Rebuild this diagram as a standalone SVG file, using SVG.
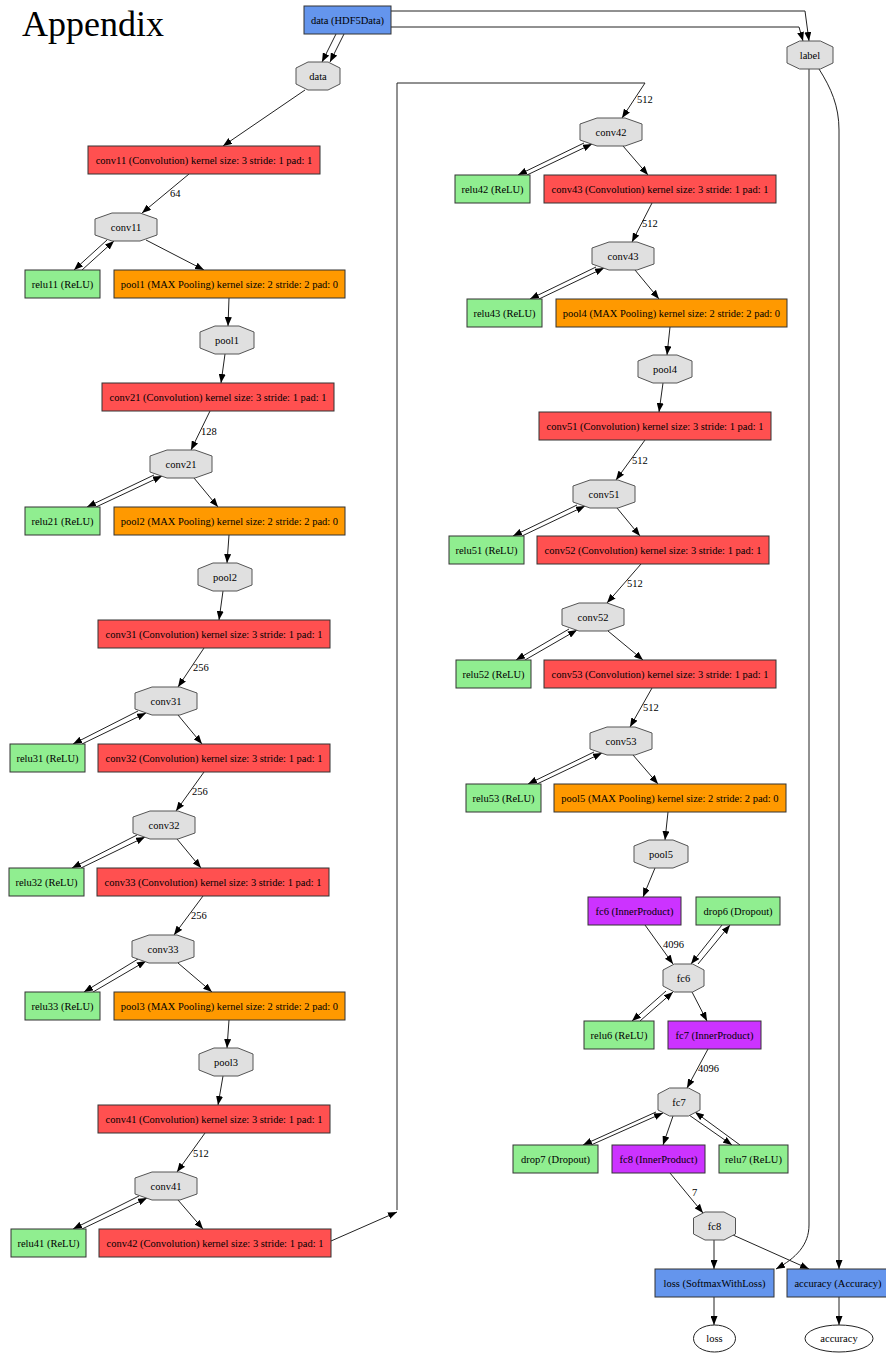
<svg xmlns="http://www.w3.org/2000/svg" width="886" height="1353" viewBox="0 0 886 1353">
<style>
.bx{stroke:#333;stroke-width:1}
.red{fill:#FF5050}.org{fill:#FF9900}.grn{fill:#90EE90}.blu{fill:#6495ED}.pur{fill:#CC33FF}
.oct{fill:#E0E0E0;stroke:#555;stroke-width:1}
.ell{fill:#fff;stroke:#222;stroke-width:1}
text{font-family:"Liberation Serif","Times New Roman",serif;font-size:10.5px;fill:#000}
.t{text-anchor:middle}
.e{fill:none;stroke:#222;stroke-width:1;marker-end:url(#a)}
.n{fill:none;stroke:#222;stroke-width:1}
</style>
<defs>
<marker id="a" markerWidth="9" markerHeight="7" refX="9" refY="3.5" orient="auto" markerUnits="userSpaceOnUse"><path d="M0,0 L9,3.5 L0,7 z" fill="#000"/></marker>
</defs>
<rect width="886" height="1353" fill="#fff"/>
<text x="22" y="36" style="font-size:36px">Appendix</text>

<g id="connectors">
<path class="e" d="M336,34 L322,62"/>
<path class="e" d="M344,34 L330,62"/>
<path class="e" d="M390,11 L805,11 L809,41"/>
<path class="e" d="M390,27 L799,27 L803,41"/>
<path class="e" d="M305,90 L223,146"/>
<path class="e" d="M189,174 L142,213"/>
<path class="e" d="M107,240 L74,270"/>
<path class="e" d="M82,270 L114,241"/>
<path class="e" d="M146,240 L204,270"/>
<path class="e" d="M229,298 L228,326"/>
<path class="e" d="M225,354 L221,383"/>
<path class="e" d="M210,411 L191,450"/>
<path class="e" d="M154,475 L87,507"/>
<path class="e" d="M96,507 L162,476"/>
<path class="e" d="M194,478 L218,507"/>
<path class="e" d="M229,535 L227,563"/>
<path class="e" d="M223,591 L219,620"/>
<path class="e" d="M204,648 L178,687"/>
<path class="e" d="M138,711 L73,744"/>
<path class="e" d="M82,744 L146,713"/>
<path class="e" d="M178,715 L202,744"/>
<path class="e" d="M204,772 L176,811"/>
<path class="e" d="M137,835 L72,868"/>
<path class="e" d="M81,868 L145,837"/>
<path class="e" d="M177,839 L201,868"/>
<path class="e" d="M203,896 L174,935"/>
<path class="e" d="M138,959 L84,992"/>
<path class="e" d="M93,992 L146,961"/>
<path class="e" d="M178,963 L212,992"/>
<path class="e" d="M229,1020 L227,1048"/>
<path class="e" d="M223,1076 L218,1105"/>
<path class="e" d="M205,1133 L177,1172"/>
<path class="e" d="M139,1196 L73,1229"/>
<path class="e" d="M82,1229 L147,1198"/>
<path class="e" d="M178,1200 L203,1229"/>
<path class="e" d="M331,1241 L397,1212"/>
<path class="n" d="M397,1210 L397,83 L645,83"/>
<path class="e" d="M645,83 L622,118"/>
<path class="e" d="M584,143 L518,175"/>
<path class="e" d="M527,175 L592,144"/>
<path class="e" d="M623,146 L648,175"/>
<path class="e" d="M652,203 L632,242"/>
<path class="e" d="M596,267 L530,299"/>
<path class="e" d="M539,299 L604,268"/>
<path class="e" d="M635,270 L659,299"/>
<path class="e" d="M670,327 L667,355"/>
<path class="e" d="M663,383 L659,412"/>
<path class="e" d="M645,440 L616,480"/>
<path class="e" d="M577,505 L513,536"/>
<path class="e" d="M522,536 L585,506"/>
<path class="e" d="M617,508 L640,536"/>
<path class="e" d="M641,564 L607,603"/>
<path class="e" d="M569,629 L516,660"/>
<path class="e" d="M525,660 L577,630"/>
<path class="e" d="M608,631 L643,660"/>
<path class="e" d="M652,688 L630,727"/>
<path class="e" d="M594,752 L528,784"/>
<path class="e" d="M537,784 L602,753"/>
<path class="e" d="M633,755 L658,784"/>
<path class="e" d="M668,812 L665,840"/>
<path class="e" d="M655,868 L643,897"/>
<path class="e" d="M645,925 L673,964"/>
<path class="e" d="M698,964 L730,925"/>
<path class="e" d="M722,925 L691,964"/>
<path class="e" d="M666,991 L632,1021"/>
<path class="e" d="M640,1021 L673,992"/>
<path class="e" d="M692,992 L707,1021"/>
<path class="e" d="M708,1049 L687,1088"/>
<path class="e" d="M656,1112 L583,1145"/>
<path class="e" d="M591,1145 L663,1113"/>
<path class="e" d="M673,1116 L663,1145"/>
<path class="e" d="M689,1115 L732,1145"/>
<path class="e" d="M740,1145 L695,1112"/>
<path class="e" d="M670,1173 L703,1213"/>
<path class="e" d="M714,1240 L714,1269"/>
<path class="e" d="M733,1235 L809,1269"/>
<path class="e" d="M809,69 L809,1225 C809,1245 796,1258 776,1269"/>
<path class="e" d="M819,69 C831,88 839,106 839,130 L839,1269"/>
<path class="e" d="M714,1297 L714,1325"/>
<path class="e" d="M839,1297 L839,1325"/>
<text x="170" y="197">64</text>
<text x="201" y="435">128</text>
<text x="193" y="671">256</text>
<text x="192" y="795">256</text>
<text x="191" y="919">256</text>
<text x="193" y="1157">512</text>
<text x="637" y="103">512</text>
<text x="642" y="227">512</text>
<text x="632" y="464">512</text>
<text x="627" y="587">512</text>
<text x="643" y="711">512</text>
<text x="663" y="948">4096</text>
<text x="698" y="1072">4096</text>
<text x="692" y="1196">7</text>
</g>

<g id="data_HDF5"><rect class="bx blu" x="304" y="6" width="87" height="28"/><text class="t" x="347.5" y="23.7">data (HDF5Data)</text></g>
<g id="data"><polygon class="oct" points="308,62 328,62 340,68 340,84 328,90 308,90 296,84 296,68"/><text class="t" x="318" y="79.7">data</text></g>
<g id="label"><polygon class="oct" points="799.6,41 820.4,41 833,47 833,63 820.4,69 799.6,69 787,63 787,47"/><text class="t" x="810" y="58.7">label</text></g>

<g id="conv11_layer"><rect class="bx red" x="88" y="146" width="232" height="28"/><text class="t" x="204" y="163.7">conv11 (Convolution) kernel size: 3 stride: 1 pad: 1</text></g>
<g id="conv11"><polygon class="oct" points="112,213 140,213 157,219 157,235 140,241 112,241 95,235 95,219"/><text class="t" x="126" y="230.7">conv11</text></g>
<g id="relu11"><rect class="bx grn" x="25" y="270" width="75" height="28"/><text class="t" x="62.5" y="287.7">relu11 (ReLU)</text></g>
<g id="pool1_layer"><rect class="bx org" x="114" y="270" width="231" height="28"/><text class="t" x="229.5" y="287.7">pool1 (MAX Pooling) kernel size: 2 stride: 2 pad: 0</text></g>
<g id="pool1"><polygon class="oct" points="215,326 239,326 254,332 254,348 239,354 215,354 200,348 200,332"/><text class="t" x="227" y="343.7">pool1</text></g>

<g id="conv21_layer"><rect class="bx red" x="102" y="383" width="232" height="28"/><text class="t" x="218" y="400.7">conv21 (Convolution) kernel size: 3 stride: 1 pad: 1</text></g>
<g id="conv21"><polygon class="oct" points="167,450 195,450 212,456 212,472 195,478 167,478 150,472 150,456"/><text class="t" x="181" y="467.7">conv21</text></g>
<g id="relu21"><rect class="bx grn" x="25" y="507" width="75" height="28"/><text class="t" x="62.5" y="524.7">relu21 (ReLU)</text></g>
<g id="pool2_layer"><rect class="bx org" x="114" y="507" width="231" height="28"/><text class="t" x="229.5" y="524.7">pool2 (MAX Pooling) kernel size: 2 stride: 2 pad: 0</text></g>
<g id="pool2"><polygon class="oct" points="213,563 237,563 252,569 252,585 237,591 213,591 198,585 198,569"/><text class="t" x="225" y="580.7">pool2</text></g>

<g id="conv31_layer"><rect class="bx red" x="98" y="620" width="232" height="28"/><text class="t" x="214" y="637.7">conv31 (Convolution) kernel size: 3 stride: 1 pad: 1</text></g>
<g id="conv31"><polygon class="oct" points="152,687 180,687 197,693 197,709 180,715 152,715 135,709 135,693"/><text class="t" x="166" y="704.7">conv31</text></g>
<g id="relu31"><rect class="bx grn" x="10" y="744" width="75" height="28"/><text class="t" x="47.5" y="761.7">relu31 (ReLU)</text></g>
<g id="conv32_layer"><rect class="bx red" x="98" y="744" width="232" height="28"/><text class="t" x="214" y="761.7">conv32 (Convolution) kernel size: 3 stride: 1 pad: 1</text></g>
<g id="conv32"><polygon class="oct" points="150,811 178,811 195,817 195,833 178,839 150,839 133,833 133,817"/><text class="t" x="164" y="828.7">conv32</text></g>
<g id="relu32"><rect class="bx grn" x="9" y="868" width="75" height="28"/><text class="t" x="46.5" y="885.7">relu32 (ReLU)</text></g>
<g id="conv33_layer"><rect class="bx red" x="97" y="868" width="232" height="28"/><text class="t" x="213" y="885.7">conv33 (Convolution) kernel size: 3 stride: 1 pad: 1</text></g>
<g id="conv33"><polygon class="oct" points="149,935 177,935 194,941 194,957 177,963 149,963 132,957 132,941"/><text class="t" x="163" y="952.7">conv33</text></g>
<g id="relu33"><rect class="bx grn" x="25" y="992" width="75" height="28"/><text class="t" x="62.5" y="1009.7">relu33 (ReLU)</text></g>
<g id="pool3_layer"><rect class="bx org" x="114" y="992" width="231" height="28"/><text class="t" x="229.5" y="1009.7">pool3 (MAX Pooling) kernel size: 2 stride: 2 pad: 0</text></g>
<g id="pool3"><polygon class="oct" points="214,1048 238,1048 253,1054 253,1070 238,1076 214,1076 199,1070 199,1054"/><text class="t" x="226" y="1065.7">pool3</text></g>

<g id="conv41_layer"><rect class="bx red" x="98" y="1105" width="232" height="28"/><text class="t" x="214" y="1122.7">conv41 (Convolution) kernel size: 3 stride: 1 pad: 1</text></g>
<g id="conv41"><polygon class="oct" points="152,1172 180,1172 197,1178 197,1194 180,1200 152,1200 135,1194 135,1178"/><text class="t" x="166" y="1189.7">conv41</text></g>
<g id="relu41"><rect class="bx grn" x="11" y="1229" width="75" height="28"/><text class="t" x="48.5" y="1246.7">relu41 (ReLU)</text></g>
<g id="conv42_layer"><rect class="bx red" x="99" y="1229" width="232" height="28"/><text class="t" x="215" y="1246.7">conv42 (Convolution) kernel size: 3 stride: 1 pad: 1</text></g>

<g id="conv42"><polygon class="oct" points="597,118 625,118 642,124 642,140 625,146 597,146 580,140 580,124"/><text class="t" x="611" y="135.7">conv42</text></g>
<g id="relu42"><rect class="bx grn" x="455" y="175" width="75" height="28"/><text class="t" x="492.5" y="192.7">relu42 (ReLU)</text></g>
<g id="conv43_layer"><rect class="bx red" x="544" y="175" width="232" height="28"/><text class="t" x="660" y="192.7">conv43 (Convolution) kernel size: 3 stride: 1 pad: 1</text></g>
<g id="conv43"><polygon class="oct" points="609,242 637,242 654,248 654,264 637,270 609,270 592,264 592,248"/><text class="t" x="623" y="259.7">conv43</text></g>
<g id="relu43"><rect class="bx grn" x="467" y="299" width="75" height="28"/><text class="t" x="504.5" y="316.7">relu43 (ReLU)</text></g>
<g id="pool4_layer"><rect class="bx org" x="556" y="299" width="231" height="28"/><text class="t" x="671.5" y="316.7">pool4 (MAX Pooling) kernel size: 2 stride: 2 pad: 0</text></g>
<g id="pool4"><polygon class="oct" points="653,355 677,355 692,361 692,377 677,383 653,383 638,377 638,361"/><text class="t" x="665" y="372.7">pool4</text></g>

<g id="conv51_layer"><rect class="bx red" x="539" y="412" width="232" height="28"/><text class="t" x="655" y="429.7">conv51 (Convolution) kernel size: 3 stride: 1 pad: 1</text></g>
<g id="conv51"><polygon class="oct" points="590,480 618,480 635,486 635,502 618,508 590,508 573,502 573,486"/><text class="t" x="604" y="497.7">conv51</text></g>
<g id="relu51"><rect class="bx grn" x="449" y="536" width="75" height="28"/><text class="t" x="486.5" y="553.7">relu51 (ReLU)</text></g>
<g id="conv52_layer"><rect class="bx red" x="537" y="536" width="232" height="28"/><text class="t" x="653" y="553.7">conv52 (Convolution) kernel size: 3 stride: 1 pad: 1</text></g>
<g id="conv52"><polygon class="oct" points="579,603 607,603 624,609 624,625 607,631 579,631 562,625 562,609"/><text class="t" x="593" y="620.7">conv52</text></g>
<g id="relu52"><rect class="bx grn" x="456" y="660" width="75" height="28"/><text class="t" x="493.5" y="677.7">relu52 (ReLU)</text></g>
<g id="conv53_layer"><rect class="bx red" x="544" y="660" width="232" height="28"/><text class="t" x="660" y="677.7">conv53 (Convolution) kernel size: 3 stride: 1 pad: 1</text></g>
<g id="conv53"><polygon class="oct" points="607,727 635,727 652,733 652,749 635,755 607,755 590,749 590,733"/><text class="t" x="621" y="744.7">conv53</text></g>
<g id="relu53"><rect class="bx grn" x="466" y="784" width="75" height="28"/><text class="t" x="503.5" y="801.7">relu53 (ReLU)</text></g>
<g id="pool5_layer"><rect class="bx org" x="554" y="784" width="232" height="28"/><text class="t" x="670" y="801.7">pool5 (MAX Pooling) kernel size: 2 stride: 2 pad: 0</text></g>
<g id="pool5"><polygon class="oct" points="649,840 673,840 688,846 688,862 673,868 649,868 634,862 634,846"/><text class="t" x="661" y="857.7">pool5</text></g>

<g id="fc6_layer"><rect class="bx pur" x="588" y="897" width="93" height="28"/><text class="t" x="634.5" y="914.7">fc6 (InnerProduct)</text></g>
<g id="drop6"><rect class="bx grn" x="696" y="897" width="84" height="28"/><text class="t" x="738" y="914.7">drop6 (Dropout)</text></g>
<g id="fc6"><polygon class="oct" points="674.3,964 692.7,964 704,970 704,986 692.7,992 674.3,992 663,986 663,970"/><text class="t" x="683.5" y="981.7">fc6</text></g>
<g id="relu6"><rect class="bx grn" x="584" y="1021" width="70" height="28"/><text class="t" x="619" y="1038.7">relu6 (ReLU)</text></g>
<g id="fc7_layer"><rect class="bx pur" x="668" y="1021" width="93" height="28"/><text class="t" x="714.5" y="1038.7">fc7 (InnerProduct)</text></g>
<g id="fc7"><polygon class="oct" points="669.5,1088 688.5,1088 700,1094 700,1110 688.5,1116 669.5,1116 658,1110 658,1094"/><text class="t" x="679" y="1105.7">fc7</text></g>
<g id="drop7"><rect class="bx grn" x="513" y="1145" width="85" height="28"/><text class="t" x="555.5" y="1162.7">drop7 (Dropout)</text></g>
<g id="fc8_layer"><rect class="bx pur" x="612" y="1145" width="93" height="28"/><text class="t" x="658.5" y="1162.7">fc8 (InnerProduct)</text></g>
<g id="relu7"><rect class="bx grn" x="719" y="1145" width="69" height="28"/><text class="t" x="753.5" y="1162.7">relu7 (ReLU)</text></g>
<g id="fc8"><polygon class="oct" points="705,1212 724,1212 735.5,1218 735.5,1234 724,1240 705,1240 693.5,1234 693.5,1218"/><text class="t" x="714.5" y="1229.7">fc8</text></g>
<g id="loss_layer"><rect class="bx blu" x="655" y="1269" width="119" height="28"/><text class="t" x="714.5" y="1286.7">loss (SoftmaxWithLoss)</text></g>
<g id="accuracy_layer"><rect class="bx blu" x="787" y="1269" width="102" height="28"/><text class="t" x="838" y="1286.7">accuracy (Accuracy)</text></g>
<g id="loss"><ellipse class="ell" cx="714.5" cy="1338.5" rx="21" ry="13.5"/><text class="t" x="714.5" y="1342.2">loss</text></g>
<g id="accuracy"><ellipse class="ell" cx="839" cy="1338.5" rx="34" ry="13.5"/><text class="t" x="839" y="1342.2">accuracy</text></g>
</svg>
